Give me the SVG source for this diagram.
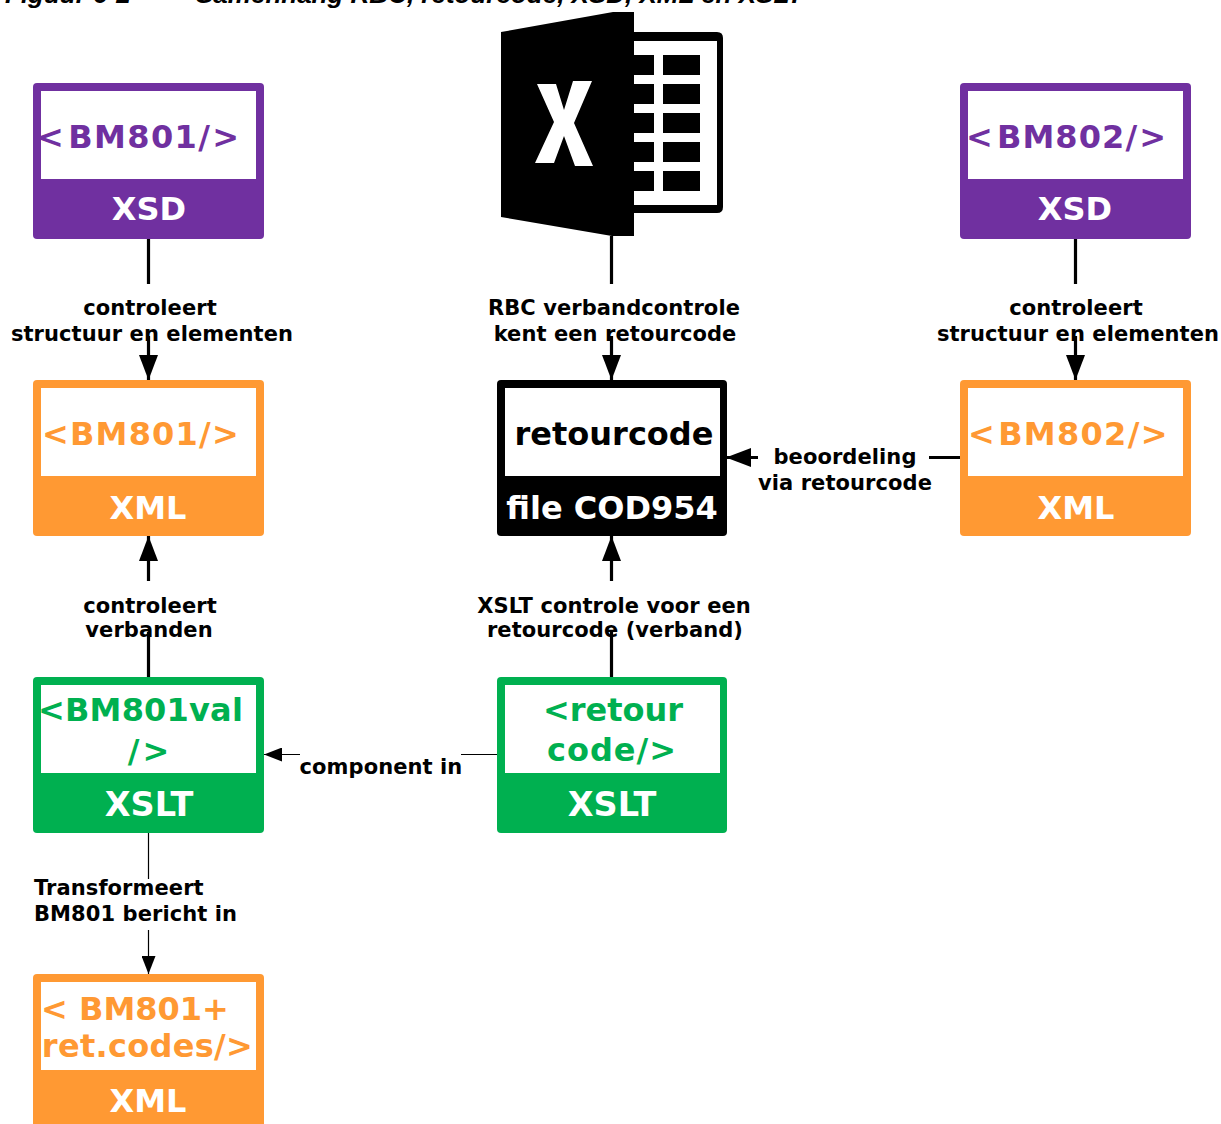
<svg xmlns="http://www.w3.org/2000/svg" width="1221" height="1124" viewBox="0 0 1221 1124">
<defs>
<marker id="ah" markerUnits="userSpaceOnUse" markerWidth="26" markerHeight="20" refX="25" refY="10" orient="auto"><path d="M0 0.500L25 10L0 19.500Z" fill="#000"/></marker>
<marker id="as" markerUnits="userSpaceOnUse" markerWidth="18" markerHeight="14" refX="18" refY="7" orient="auto"><path d="M0 0L18 7L0 14Z" fill="#000"/></marker>
</defs>
<style>
text{font-family:"DejaVu Sans",Verdana,sans-serif;font-weight:700;text-anchor:middle}
.t{font-size:32px}.f{font-size:32px;fill:#fff}.l{font-size:21px;fill:#000;letter-spacing:.08px}
.x{font-size:33.500px}
.s{text-anchor:start}
.h{font-family:"Liberation Sans",Arial,sans-serif;font-size:26px;font-style:italic;text-anchor:start}
.w{fill:#fff}
.c{stroke:#000;stroke-width:3.2;fill:none}.n{stroke:#000;stroke-width:1.2;fill:none}
.pu{fill:#7030a0}.or{fill:#ff9933}.gr{fill:#00b050}.bk{fill:#000}
</style>
<text class="h" x="5" y="3">Figuur 6-2</text>
<text class="h" x="196" y="3">Samenhang RBC, retourcode, XSD, XML en XSLT</text>
<g id="connectors">
<path class="c" d="M148.500 239V284M148.500 336V380" marker-end="url(#ah)"/>
<path class="c" d="M611.500 236V284M611.500 336V380" marker-end="url(#ah)"/>
<path class="c" d="M1075.500 239V284M1075.500 336V380" marker-end="url(#ah)"/>
<path class="c" d="M960 457.500H929M758 457.500H726" marker-end="url(#ah)"/>
<path class="c" d="M148.500 677V632M148.500 581V536" marker-end="url(#ah)"/>
<path class="c" d="M611.500 677V632M611.500 581V536" marker-end="url(#ah)"/>
<path class="n" d="M497 754.500H461M300 754.500H264" marker-end="url(#as)"/>
<path class="n" d="M148.500 833V879M148.500 930V974" marker-end="url(#as)"/>
</g>
<g id="bm801-xsd"><rect class="pu" x="33" y="83" width="231" height="156" rx="4"/><rect class="w" x="41" y="91" width="215" height="88"/><text class="t pu s" x="37" y="148" letter-spacing="1.400">&lt;<tspan dx="3">BM801/</tspan><tspan dx="1">&gt;</tspan></text><text class="f" x="149" y="220">XSD</text></g>
<g id="bm802-xsd"><rect class="pu" x="960" y="83" width="231" height="156" rx="4"/><rect class="w" x="968" y="91" width="215" height="88"/><text class="t pu s" x="966" y="148" letter-spacing="1.100">&lt;<tspan dx="3">BM802/</tspan><tspan dx="1">&gt;</tspan></text><text class="f" x="1075" y="220">XSD</text></g>
<g id="excel"><path class="bk" d="M501 32L613 12H634V236H612L501 217Z"/><path class="bk" fill-rule="evenodd" d="M634 32H717Q723 32 723 38V207Q723 213 717 213H634V205H717V41H634Z"/>
<g class="bk"><rect x="634" y="55" width="20" height="20"/><rect x="663" y="55" width="37" height="20"/><rect x="634" y="84" width="20" height="20"/><rect x="663" y="84" width="37" height="20"/><rect x="634" y="113" width="20" height="20"/><rect x="663" y="113" width="37" height="20"/><rect x="634" y="142" width="20" height="20"/><rect x="663" y="142" width="37" height="20"/><rect x="634" y="171" width="20" height="20"/><rect x="663" y="171" width="37" height="20"/></g>
<path class="w" d="M537 84H556L564 110L573 81H592L574 123L593 166H575L564 136L554 163H535L554 122Z"/></g>
<g id="bm801-xml"><rect class="or" x="33" y="380" width="231" height="156" rx="4"/><rect class="w" x="41" y="388" width="215" height="88"/><text class="t or s" x="42" y="445" letter-spacing="1.200">&lt;BM801/&gt;</text><text class="f" x="148" y="519">XML</text></g>
<g id="retourcode"><rect class="bk" x="497" y="380" width="230" height="156" rx="4"/><rect class="w" x="505" y="388" width="215" height="88"/><text x="614" y="445" style="font-size:32px">retourcode</text><text class="f" x="612" y="519">file COD954</text></g>
<g id="bm802-xml"><rect class="or" x="960" y="380" width="231" height="156" rx="4"/><rect class="w" x="968" y="388" width="215" height="88"/><text class="t or s" x="968" y="445" letter-spacing="1.300">&lt;<tspan dx="2">BM802/</tspan>&gt;</text><text class="f" x="1076" y="519">XML</text></g>
<g id="bm801val"><rect class="gr" x="33" y="677" width="231" height="156" rx="4"/><rect class="w" x="41" y="685" width="215" height="88"/><text class="t gr s" x="38" y="721" letter-spacing=".2">&lt;BM801val</text><text class="t gr" x="150" y="762" letter-spacing="3">/&gt;</text><text class="f x" x="149" y="816">XSLT</text></g>
<g id="retourcode-xslt"><rect class="gr" x="497" y="677" width="230" height="156" rx="4"/><rect class="w" x="505" y="685" width="215" height="88"/><text class="t gr" x="613" y="721">&lt;retour</text><text class="t gr" x="612" y="761" letter-spacing="1">code/&gt;</text><text class="f x" x="612" y="816">XSLT</text></g>
<g id="bm801-ret"><rect class="or" x="33" y="974" width="231" height="156" rx="4"/><rect class="w" x="41" y="982" width="215" height="88"/><text class="t or" x="135" y="1020">&lt; BM801+</text><text class="t or" x="147.500" y="1057" letter-spacing=".3">ret.codes/&gt;</text><text class="f" x="148" y="1112">XML</text></g>
<g id="labels">
<text class="l" x="150" y="315">controleert</text><text class="l" x="152" y="341">structuur en elementen</text>
<text class="l" x="614" y="315">RBC verbandcontrole</text><text class="l" x="615" y="341">kent een retourcode</text>
<text class="l" x="1076" y="315">controleert</text><text class="l" x="1078" y="341">structuur en elementen</text>
<text class="l" x="845" y="464">beoordeling</text><text class="l" x="845" y="490">via retourcode</text>
<text class="l" x="150" y="613">controleert</text><text class="l" x="149" y="637">verbanden</text>
<text class="l" x="614" y="613" letter-spacing=".3">XSLT controle voor een</text><text class="l" x="615" y="637">retourcode (verband)</text>
<text class="l" x="381" y="774">component in</text>
<text class="l s" x="34" y="895" letter-spacing=".4">Transformeert</text><text class="l s" x="34" y="921" letter-spacing=".15">BM801 bericht in</text>
</g>
</svg>
